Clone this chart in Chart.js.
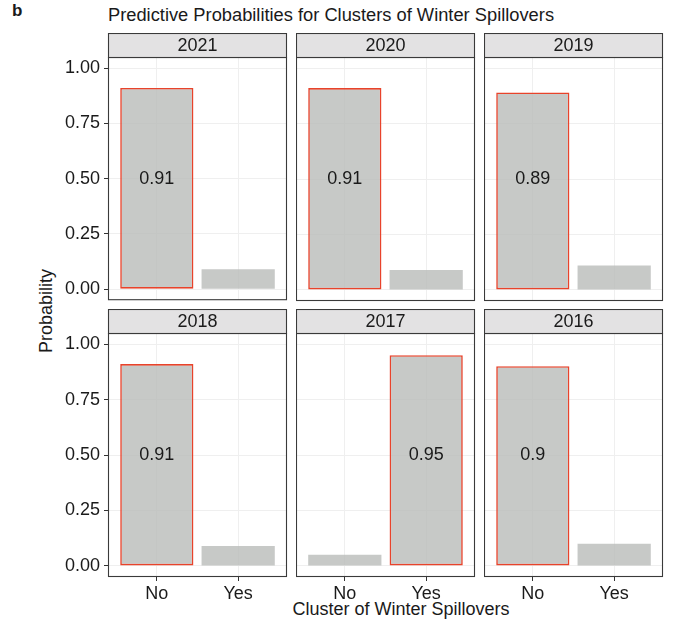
<!DOCTYPE html>
<html>
<head>
<meta charset="utf-8">
<script src="https://cdn.jsdelivr.net/npm/chart.js@4.4.1/dist/chart.umd.min.js"></script>
<style>
  body { margin: 0; background: #fff; font-family: "Liberation Sans", Arial, sans-serif; }
  #wrap { position: relative; width: 673px; height: 625px; overflow: hidden; }
  canvas { position: absolute; }
  .txt { position: absolute; color: #1a1a1a; white-space: nowrap; }
</style>
</head>
<body>
<div id="wrap">
  <div class="txt" style="left:12px; top:1px; font-size:17px; font-weight:bold;">b</div>
  <div class="txt" style="left:108px; top:4px; font-size:18.3px;">Predictive Probabilities for Clusters of Winter Spillovers</div>
  <div class="txt" style="left:46px; top:311px; font-size:18px; transform: translate(-50%, -50%) rotate(-90deg);">Probability</div>
  <div class="txt" style="left:401px; top:599px; font-size:18px; transform: translateX(-50%);">Cluster of Winter Spillovers</div>
</div>
<script>
// Facet data
const years = ['2021', '2020', '2019', '2018', '2017', '2016'];
const noProb = [0.91, 0.91, 0.89, 0.91, 0.05, 0.90];
const yesProb = [0.09, 0.09, 0.11, 0.09, 0.95, 0.10];
const categories = ['No', 'Yes'];
const yTicks = [0, 0.25, 0.5, 0.75, 1];

// Layout of the facet grid
const colLeft = [108, 296, 484];
const stripTop = [33, 309];
const panelW = 179;
const stripH = 24;
const panelH = 244;
const leftExtra = 56;
const bottomExtra = [14, 30];

const FONT = '"Liberation Sans", Arial, sans-serif';
const RED = '#e8432b';

// Draws the strip header, the panel border and the value label
const facetPlugin = {
    id: 'facet',
    afterDatasetsDraw(chart, args, opts) {
        const { ctx, chartArea, scales } = chart;
        const { left, right, top, bottom } = chartArea;

        // label on the highlighted bar
        const vals = chart.data.datasets[0].data.map(d => d.y);
        const maxV = Math.max(...vals);
        const idx = vals.indexOf(maxV);
        ctx.save();
        ctx.fillStyle = '#1a1a1a';
        ctx.font = '18px ' + FONT;
        ctx.textAlign = 'center';
        ctx.textBaseline = 'middle';
        ctx.fillText(String(maxV), scales.x.getPixelForValue(idx + 1), scales.y.getPixelForValue(0.5));

        // panel border
        ctx.strokeStyle = '#3a3a3a';
        ctx.lineWidth = 1.1;
        ctx.strokeRect(left + 0.5, top + 0.5, right - left - 1, bottom - top - 1);

        // strip
        ctx.fillStyle = '#e3e2e3';
        ctx.fillRect(left + 0.5, 0.5, right - left - 1, top);
        ctx.strokeRect(left + 0.5, 0.5, right - left - 1, top);
        ctx.fillStyle = '#1a1a1a';
        ctx.fillText(opts.title, (left + right) / 2, top / 2 + 1);
        ctx.restore();
    }
};

years.forEach((year, i) => {
    const row = Math.floor(i / 3);
    const col = i % 3;
    const hasY = col === 0;
    const hasX = row === 1;
    const lx = hasY ? leftExtra : 0;
    const bx = bottomExtra[row];

    const canvas = document.createElement('canvas');
    const w = lx + panelW + 1;
    const h = stripH + panelH + bx;
    canvas.width = w;
    canvas.height = h;
    canvas.style.width = w + 'px';
    canvas.style.height = h + 'px';
    canvas.style.left = (colLeft[col] - lx) + 'px';
    canvas.style.top = stripTop[row] + 'px';
    document.getElementById('wrap').appendChild(canvas);

    const values = [noProb[i], yesProb[i]];
    const maxV = Math.max(...values);

    new Chart(canvas.getContext('2d'), {
        type: 'bar',
        data: {
            datasets: [{
                data: values.map((v, k) => ({ x: k + 1, y: v })),
                backgroundColor: 'rgba(185,187,185,0.8)',
                borderColor: values.map(v => v === maxV ? RED : 'rgba(0,0,0,0)'),
                borderWidth: values.map(v => v === maxV ? 1.6 : 0),
                borderSkipped: false,
                barPercentage: 0.9,
                categoryPercentage: 1
            }]
        },
        options: {
            responsive: false,
            animation: false,
            layout: { padding: { top: stripH, right: 1, bottom: 0, left: 0 } },
            plugins: {
                legend: { display: false },
                tooltip: { enabled: false },
                facet: { title: year }
            },
            scales: {
                x: {
                    type: 'linear',
                    min: 0.4,
                    max: 2.6,
                    offset: false,
                    afterBuildTicks: (scale) => {
                        scale.ticks = categories.map((c, k) => ({ value: k + 1 }));
                    },
                    afterFit: (scale) => { scale.height = bx; },
                    border: { display: false },
                    grid: {
                        offset: false,
                        color: '#efefef',
                        lineWidth: 1,
                        drawTicks: hasX,
                        tickLength: 4,
                        tickColor: '#333333'
                    },
                    ticks: {
                        display: hasX,
                        padding: 2,
                        color: '#1a1a1a',
                        font: { family: FONT, size: 18 },
                        maxRotation: 0,
                        autoSkip: false,
                        callback: (v) => categories[v - 1] || ''
                    }
                },
                y: {
                    type: 'linear',
                    min: -0.05,
                    max: 1.05,
                    afterBuildTicks: (scale) => {
                        scale.ticks = yTicks.map(v => ({ value: v }));
                    },
                    afterFit: (scale) => { scale.width = lx; },
                    border: { display: false },
                    grid: {
                        color: '#efefef',
                        lineWidth: 1,
                        drawTicks: hasY,
                        tickLength: 4,
                        tickColor: '#333333'
                    },
                    ticks: {
                        display: hasY,
                        padding: 4,
                        color: '#1a1a1a',
                        font: { family: FONT, size: 18 },
                        callback: (v) => v.toFixed(2)
                    }
                }
            }
        },
        plugins: [facetPlugin]
    });
});
</script>
</body>
</html>
